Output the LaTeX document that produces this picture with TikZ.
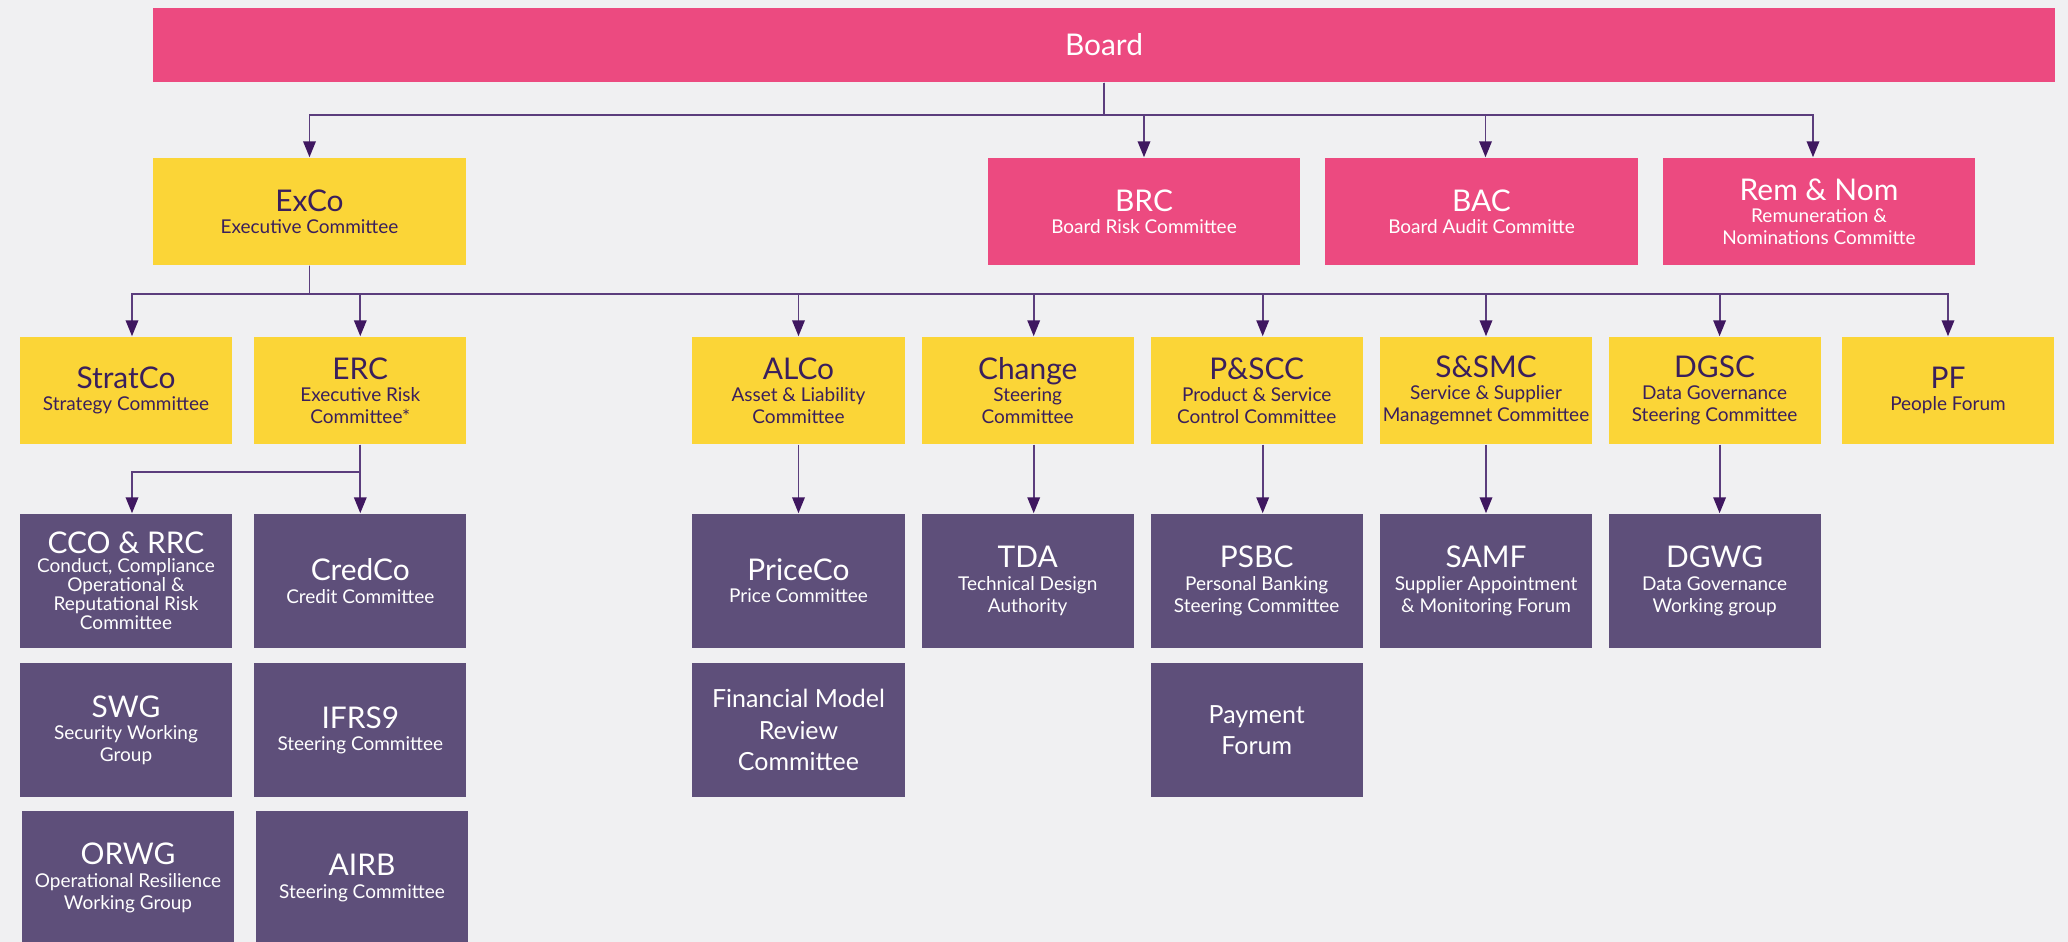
\documentclass[tikz,border=0pt]{standalone}
\usepackage{fontspec}
\setmainfont{Lato}
\usepackage{tikz}
\usetikzlibrary{arrows.meta,positioning}
\usepackage{xcolor}
\definecolor{boardpink}{RGB}{236,74,128}
\definecolor{exyellow}{RGB}{251,213,55}
\definecolor{subpurple}{RGB}{94,79,122}
\definecolor{inkpurple}{RGB}{58,31,92}
\definecolor{linepurple}{RGB}{91,61,125}
\definecolor{tippurple}{RGB}{63,23,96}
\definecolor{paper}{RGB}{240,240,242}
\newcommand{\boxtitle}[1]{{\fontsize{8.5}{6.3}\selectfont #1}}
\newcommand{\boxsub}{\lineskiplimit=-20pt\relax\fontsize{5.4}{6.3}\selectfont}
\newcommand{\boxsubtight}{\lineskiplimit=-20pt\relax\fontsize{5.4}{5.4}\selectfont}
\newcommand{\boxbig}{\fontsize{7.1}{9}\selectfont}
\tikzstyle{arrow} = [line width=0.55pt, color=linepurple, -{Triangle[length=1.6mm,width=1.25mm,color=tippurple]}]
\tikzstyle{box} = [rectangle, inner sep=0pt, align=center, minimum width=2.12cm, minimum height=1.07cm, font=\boxsub]
\tikzstyle{pinkbox} = [box, fill=boardpink, text=white, minimum width=3.12cm]
\tikzstyle{yellowbox} = [box, fill=exyellow, text=inkpurple]
\tikzstyle{purplebox} = [box, fill=subpurple, text=white, minimum height=1.34cm]

\begin{document}
\begin{tikzpicture}[x=0.01cm, y=-0.01cm]
% Page
\fill[paper] (0,0) rectangle (2068,942);
\useasboundingbox (0,0) rectangle (2068,942);

% Board level
\node[pinkbox, minimum width=19cm, minimum height=0.74cm] (board) at (1104,45) {\boxtitle{Board}};
\node[yellowbox, minimum width=3.13cm] (exco) at (309.5,211.5) {\boxtitle{ExCo}\\Executive Committee};
\node[pinkbox] (brc) at (1144,211.5) {\boxtitle{BRC}\\Board Risk Committee};
\node[pinkbox] (bac) at (1481.5,211.5) {\boxtitle{BAC}\\Board Audit Committe};
\node[pinkbox] (remnom) at (1819,211.5) {\boxtitle{Rem \& Nom}\\Remuneration \&\\Nominations Committe};

% Executive committees
\node[yellowbox] (stratco) at (126,390.5) {\boxtitle{StratCo}\\Strategy Committee};
\node[yellowbox] (erc) at (360.3,390.5) {\boxtitle{ERC}\\Executive Risk\\Committee*};
\node[yellowbox] (alco) at (798.5,390.5) {\boxtitle{ALCo}\\Asset \& Liability\\Committee};
\node[yellowbox] (change) at (1027.7,390.5) {\boxtitle{Change}\\Steering\\Committee};
\node[yellowbox] (pscc) at (1256.7,390.5) {\boxtitle{P\&SCC}\\Product \& Service\\Control Committee};
\node[yellowbox] (ssmc) at (1486,390.5) {\boxtitle{S\&SMC}\\Service \& Supplier\\Managemnet Committee};
\node[yellowbox] (dgsc) at (1714.6,390.5) {\boxtitle{DGSC}\\Data Governance\\Steering Committee};
\node[yellowbox] (pf) at (1948,390.5) {\boxtitle{PF}\\People Forum};

% Sub committees and groups
\node[purplebox, font=\boxsubtight] (cco) at (126,581) {\boxtitle{CCO \& RRC}\\Conduct, Compliance\\Operational \&\\Reputational Risk\\Committee};
\node[purplebox] (credco) at (360.3,581) {\boxtitle{CredCo}\\Credit Committee};
\node[purplebox] (priceco) at (798.5,581) {\boxtitle{PriceCo}\\Price Committee};
\node[purplebox] (tda) at (1027.7,581) {\boxtitle{TDA}\\Technical Design\\Authority};
\node[purplebox] (psbc) at (1256.7,581) {\boxtitle{PSBC}\\Personal Banking\\Steering Committee};
\node[purplebox] (samf) at (1486,581) {\boxtitle{SAMF}\\Supplier Appointment\\\& Monitoring Forum};
\node[purplebox] (dgwg) at (1714.6,581) {\boxtitle{DGWG}\\Data Governance\\Working group};

\node[purplebox] (swg) at (126,730) {\boxtitle{SWG}\\Security Working\\Group};
\node[purplebox] (ifrs) at (360.3,730) {\boxtitle{IFRS9}\\Steering Committee};
\node[purplebox, font=\boxbig] (fmrc) at (798.5,730) {Financial Model\\Review\\Committee};
\node[purplebox, font=\boxbig] (payment) at (1256.7,730) {Payment\\Forum};

\node[purplebox] (orwg) at (128,878) {\boxtitle{ORWG}\\Operational Resilience\\Working Group};
\node[purplebox] (airb) at (362,878) {\boxtitle{AIRB}\\Steering Committee};

% Board to its committees
\foreach \n/\dx in {exco/0,brc/0,bac/4,remnom/-6}
  \draw[arrow] (board.south) -- ++(0,32) -| ([xshift=\dx*0.01cm]\n.north);

% ExCo to its committees
\foreach \n/\dx in {stratco/6,erc/0,alco/0,change/6,pscc/6,ssmc/0,dgsc/5,pf/0}
  \draw[arrow] (exco.south) -- ++(0,28) -| ([xshift=\dx*0.01cm]\n.north);

% ERC to its committees
\draw[arrow] (erc.south) -- ++(0,27) -| ([xshift=0.06cm]cco.north);
\draw[arrow] (erc.south) -- (credco.north);

% Single reporting lines
\draw[arrow] (alco) -- (priceco);
\draw[arrow] ([xshift=0.06cm]change.south) -- ([xshift=0.06cm]tda.north);
\draw[arrow] ([xshift=0.06cm]pscc.south) -- ([xshift=0.06cm]psbc.north);
\draw[arrow] (ssmc) -- (samf);
\draw[arrow] ([xshift=0.05cm]dgsc.south) -- ([xshift=0.05cm]dgwg.north);
\end{tikzpicture}
\end{document}
